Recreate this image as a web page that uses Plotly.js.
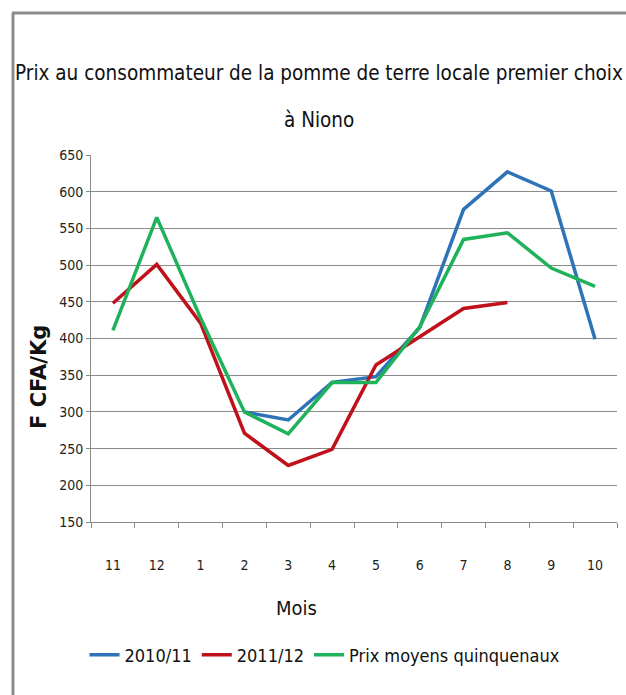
<!DOCTYPE html>
<html>
<head>
<meta charset="utf-8">
<script src="https://cdn.plot.ly/plotly-3.0.1.min.js"></script>
<style>html,body{margin:0;padding:0;background:#fff;}#chart{width:626px;height:695px;}</style>
</head>
<body>
<div id="chart"></div>
<script>
const months = ["11","12","1","2","3","4","5","6","7","8","9","10"];
const serie2010 = [null, null, null, 300, 289, 340, 348, 415, 576, 627, 601, 399];
const serie2011 = [448, 501, 421, 271, 227, 249, 364, 403, 441, 449, null, null];
const moyenne5 = [411, 565, 428, 300, 270, 340, 340, 416, 535, 544, 496, 471];
const seriesNames = ["2010/11", "2011/12", "Prix moyens quinquenaux"];
const yTicks = [150, 200, 250, 300, 350, 400, 450, 500, 550, 600, 650];

const NARROW = "DejaVu Sans Condensed, DejaVu Sans, sans-serif";
const nf = (size, color) => ({family: NARROW, size: size, color: color || "#111", stretch: "condensed"});

const traces = [
  {x: months, y: serie2010, name: seriesNames[0], type: "scatter", mode: "lines",
   line: {color: "#2e72b8", width: 3.5}, connectgaps: false},
  {x: months, y: serie2011, name: seriesNames[1], type: "scatter", mode: "lines",
   line: {color: "#c0101a", width: 3.5}, connectgaps: false},
  {x: months, y: moyenne5, name: seriesNames[2], type: "scatter", mode: "lines",
   line: {color: "#1fb25a", width: 3.5}}
];

const L = 91, R = 617, T = 155, B = 522;
const px = v => (v - L) / (R - L);
const py = v => (B - v) / (B - T);

const layout = {
  width: 626, height: 695,
  margin: {l: L, r: 626 - R, t: T, b: 695 - B},
  paper_bgcolor: "#fff", plot_bgcolor: "#fff",
  showlegend: true,
  title: {
    text: "Prix au consommateur de la pomme de terre locale premier choix",
    font: nf(20.5),
    x: 319/626, xanchor: "center", xref: "container",
    y: 1 - 73/695, yanchor: "middle", yref: "container"
  },
  xaxis: {
    type: "category", categoryorder: "array", categoryarray: months,
    range: [-0.5, 11.5],
    showline: true, linecolor: "#888", linewidth: 1,
    ticks: "outside", tickson: "boundaries", ticklen: 5, tickcolor: "#888",
    ticklabelstandoff: 30,
    tickfont: nf(14, "#222"),
    showgrid: false, zeroline: false, fixedrange: true
  },
  yaxis: {
    range: [150, 650], tickvals: yTicks, ticktext: yTicks.map(String),
    showline: true, linecolor: "#888", linewidth: 1,
    ticks: "outside", ticklen: 4, tickcolor: "#888",
    showgrid: true, gridcolor: "#8a8a8a", gridwidth: 1,
    tickfont: nf(14, "#222"),
    zeroline: false, fixedrange: true
  },
  legend: {
    orientation: "h", x: px(325), xanchor: "center", y: py(655), yanchor: "middle",
    font: nf(18), itemwidth: 30, tracegroupgap: 0,
    bgcolor: "rgba(0,0,0,0)"
  },
  annotations: [
    {text: "à Niono", xref: "paper", yref: "paper", x: px(319), y: py(120),
     xanchor: "center", yanchor: "middle", showarrow: false,
     font: nf(20.5)},
    {text: "Mois", xref: "paper", yref: "paper", x: px(296), y: py(608),
     xanchor: "center", yanchor: "middle", showarrow: false,
     font: nf(20)},
    {text: "F CFA/Kg", xref: "paper", yref: "paper", x: px(39), y: py(377),
     xanchor: "center", yanchor: "middle", showarrow: false, textangle: -90,
     font: {family: "DejaVu Sans", size: 21, color: "#111", weight: "bold"}}
  ],
  shapes: [
    {type: "line", xref: "paper", yref: "paper", x0: px(13), x1: px(13), y0: py(13), y1: py(700),
     line: {color: "#8c8c8c", width: 3}},
    {type: "line", xref: "paper", yref: "paper", x0: px(12), x1: px(630), y0: py(13), y1: py(13),
     line: {color: "#8c8c8c", width: 3}}
  ]
};

Plotly.newPlot("chart", traces, layout, {displayModeBar: false, staticPlot: true});
</script>
</body>
</html>
